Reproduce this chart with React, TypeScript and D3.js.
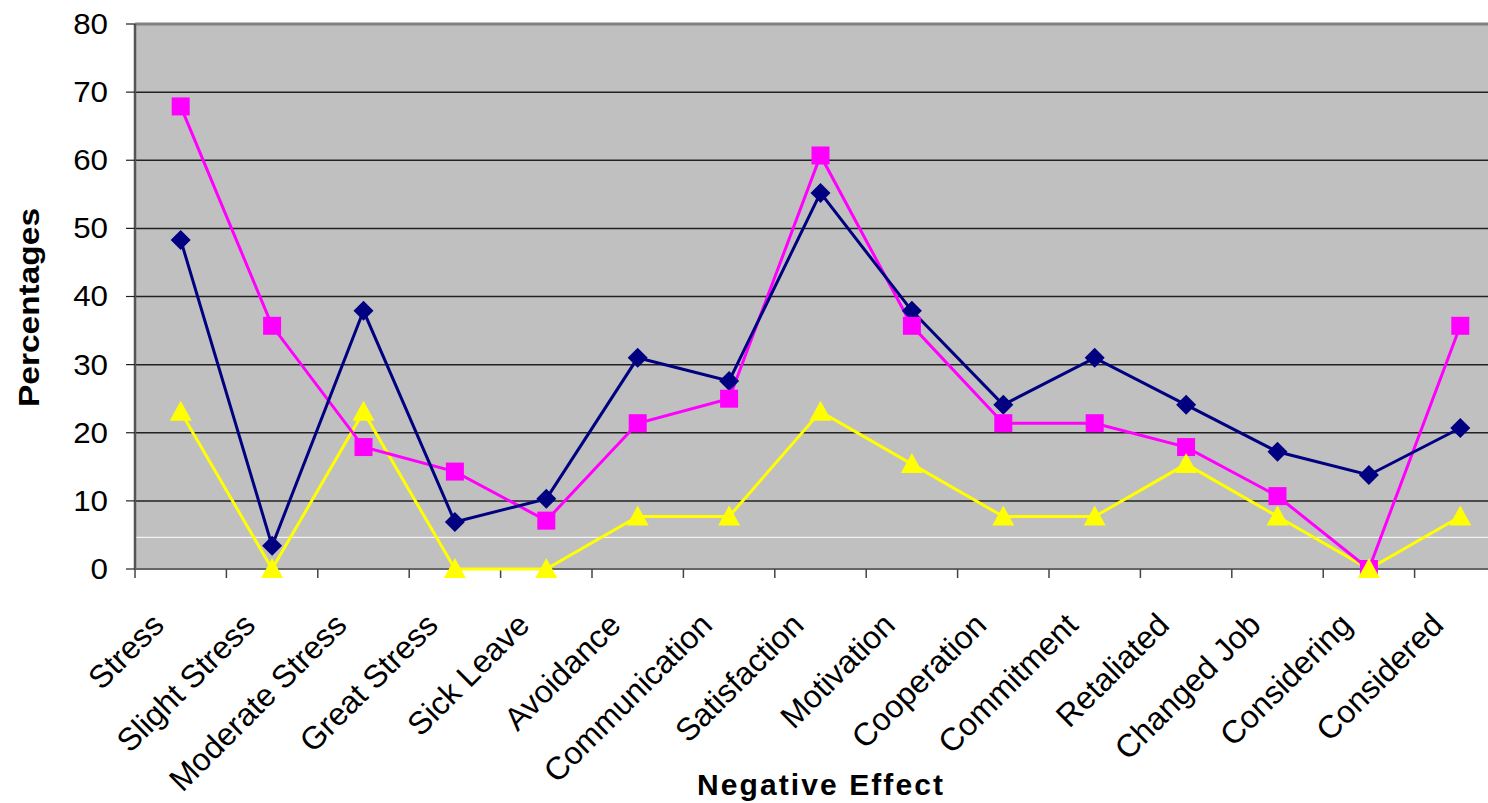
import React from "react";
import * as d3 from "d3";

const categories = [
  "Stress", "Slight Stress", "Moderate Stress", "Great Stress", "Sick Leave",
  "Avoidance", "Communication", "Satisfaction", "Motivation", "Cooperation",
  "Commitment", "Retaliated", "Changed Job", "Considering", "Considered",
];
const navySeries = [48.3, 3.4, 37.9, 6.9, 10.3, 31.0, 27.6, 55.2, 37.9, 24.1, 31.0, 24.1, 17.2, 13.8, 20.7];
const magentaSeries = [67.9, 35.7, 17.9, 14.3, 7.1, 21.4, 25.0, 60.7, 35.7, 21.4, 21.4, 17.9, 10.7, 0, 35.7];
const yellowSeries = [23.1, 0, 23.1, 0, 0, 7.7, 7.7, 23.1, 15.4, 7.7, 7.7, 15.4, 7.7, 0, 7.7];
const yTicks = [0, 10, 20, 30, 40, 50, 60, 70, 80];

const W = 1488, H = 803;
const left = 135, right = 1506, top = 24, bottom = 569;
const FONT = "'Liberation Sans', Arial, sans-serif";

export default function App() {
  const x = d3.scaleBand<string>().domain(categories).range([left, right]).paddingInner(0).paddingOuter(0);
  const y = d3.scaleLinear().domain([0, 80]).range([bottom, top]);
  const cx = (c: string) => (x(c) as number) + x.bandwidth() / 2;
  const line = d3.line<number>().x((_, i) => cx(categories[i])).y((v) => y(v));

  const diamond = (px: number, py: number, r = 10) =>
    `M${px},${py - r}L${px + r},${py}L${px},${py + r}L${px - r},${py}Z`;
  const tri = (px: number, py: number) =>
    `M${px},${py - 11}L${px + 11},${py + 9}L${px - 11},${py + 9}Z`;

  return (
    <svg width={W} height={H} style={{ display: "block", position: "absolute", left: 0, top: 0 }}>
      <rect x={0} y={0} width={W} height={H} fill="#fff" />
      <rect x={left} y={top} width={right - left} height={bottom - top} fill="#c0c0c0" />
      {yTicks.filter((t) => t > 0).map((t) => (
        <line key={t} x1={left} x2={right} y1={y(t)} y2={y(t)} stroke={t === 80 ? "#808080" : "#222"} strokeWidth={t === 80 ? 3 : 1.5} />
      ))}
      <line x1={left} x2={right} y1={537.3} y2={537.3} stroke="#fff" strokeWidth={1} />
      <line x1={left} x2={left} y1={top} y2={bottom} stroke="#555" strokeWidth={2.5} />
      <line x1={left} x2={right} y1={bottom} y2={bottom} stroke="#666" strokeWidth={2} />
      {yTicks.map((t) => (
        <g key={t}>
          <line x1={126} x2={left} y1={y(t)} y2={y(t)} stroke="#222" strokeWidth={1.2} />
          <text x={108} y={y(t) + 10} textAnchor="end" fontFamily={FONT} fontSize={29} fill="#000"
            transform={`translate(108 0) scale(1.08 1) translate(-108 0)`}>{t}</text>
        </g>
      ))}
      {categories.map((c) => (
        <line key={c} x1={x(c) as number} x2={x(c) as number} y1={bottom} y2={bottom + 9} stroke="#444" strokeWidth={1.5} />
      ))}
      <path d={line(yellowSeries) || ""} fill="none" stroke="#ffff00" strokeWidth={3} />
      <path d={line(magentaSeries) || ""} fill="none" stroke="#ff00ff" strokeWidth={3} />
      <path d={line(navySeries) || ""} fill="none" stroke="#000080" strokeWidth={3} />
      {navySeries.map((v, i) => (
        <path key={"n" + i} d={diamond(cx(categories[i]), y(v))} fill="#000080" />
      ))}
      {magentaSeries.map((v, i) => (
        <rect key={"m" + i} x={cx(categories[i]) - 9} y={y(v) - 9} width={18} height={18} fill="#ff00ff" />
      ))}
      {yellowSeries.map((v, i) => (
        <path key={"y" + i} d={tri(cx(categories[i]), y(v))} fill="#ffff00" />
      ))}
      {categories.map((c) => {
        const ax = cx(c) - 15;
        const ay = 627;
        return (
          <text key={c} x={ax} y={ay} transform={`rotate(-45 ${ax} ${ay})`} textAnchor="end"
            fontFamily={FONT} fontSize={32} fill="#000">{c}</text>
        );
      })}
      <text x={0} y={0} transform={`translate(39 307.5) rotate(-90)`} textAnchor="middle" fontFamily={FONT}
        fontWeight="bold" fontSize={30} fill="#000" textLength={199} lengthAdjust="spacingAndGlyphs">Percentages</text>
      <text x={820} y={795} textAnchor="middle" fontFamily={FONT} fontWeight="bold" fontSize={30} fill="#000"
        textLength={246} lengthAdjust="spacing">Negative Effect</text>
    </svg>
  );
}
